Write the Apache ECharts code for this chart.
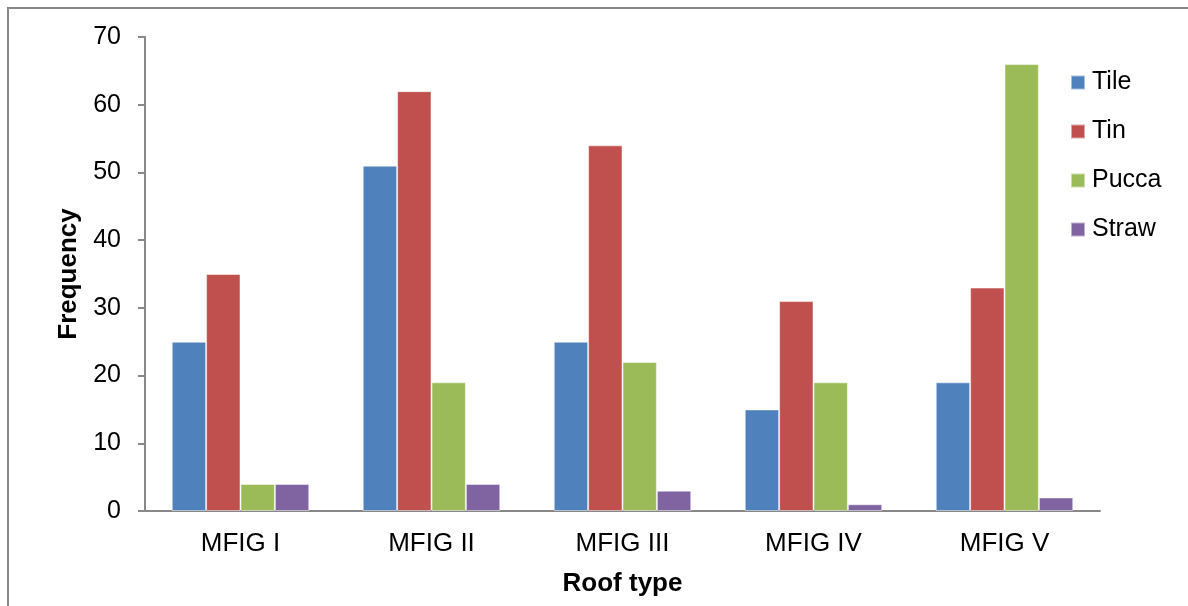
<!DOCTYPE html>
<html><head><meta charset="utf-8">
<script src="https://cdn.jsdelivr.net/npm/echarts@6/dist/echarts.min.js"></script>
<style>html,body{margin:0;padding:0;background:#fff}#c{width:1188px;height:606px}</style>
</head><body><div id="c"></div>
<script>
const categories = ['MFIG I','MFIG II','MFIG III','MFIG IV','MFIG V'];
const seriesNames = ['Tile','Tin','Pucca','Straw'];
const tile = [25, 51, 25, 15, 19];
const tin = [35, 62, 54, 31, 33];
const pucca = [4, 19, 22, 19, 66];
const straw = [4, 4, 3, 1, 2];
const colors = ['#4F81BD','#C0504D','#9BBB59','#8064A2'];
const values = [tile, tin, pucca, straw];
const font = '"Liberation Sans", Arial, sans-serif';
const chart = echarts.init(document.getElementById('c'));
chart.setOption({
  animation: false,
  color: colors,
  graphic: [{type:'rect', shape:{x:8,y:8,width:1300,height:700}, style:{fill:'none', stroke:'#888', lineWidth:2}, silent:true}],
  grid: {left:145, right:88, top:37, bottom:95, containLabel:false},
  legend: {
    orient:'vertical', left:1065, top:65, itemGap:24, itemWidth:14, itemHeight:14,
    icon:'rect', textStyle:{fontFamily:font, fontSize:25, color:'#000', padding:[0,0,0,2]},
    data: seriesNames
  },
  xAxis: {
    type:'category', data:categories,
    name:'Roof type', nameLocation:'middle', nameGap:60,
    nameTextStyle:{fontFamily:font, fontSize:26, fontWeight:'bold', color:'#000'},
    axisLine:{lineStyle:{color:'#888', width:2}},
    axisTick:{show:false},
    axisLabel:{fontFamily:font, fontSize:26, color:'#000', margin:20}
  },
  yAxis: {
    type:'value', min:0, max:70, interval:10,
    name:'Frequency', nameLocation:'middle', nameGap:60, nameRotate:90,
    nameTextStyle:{fontFamily:font, fontSize:26, fontWeight:'bold', color:'#000'},
    axisLine:{show:true, lineStyle:{color:'#888', width:2}},
    axisTick:{show:true, length:7, lineStyle:{color:'#888', width:2}},
    splitLine:{show:false},
    axisLabel:{fontFamily:font, fontSize:25, color:'#000', margin:24}
  },
  series: seriesNames.map((n,i)=>({
    name:n, type:'bar', data:values[i], barGap:'0%', barCategoryGap:'28%',
    itemStyle:{borderColor:'rgba(255,255,255,0.5)', borderWidth:1}
  }))
});
</script></body></html>
